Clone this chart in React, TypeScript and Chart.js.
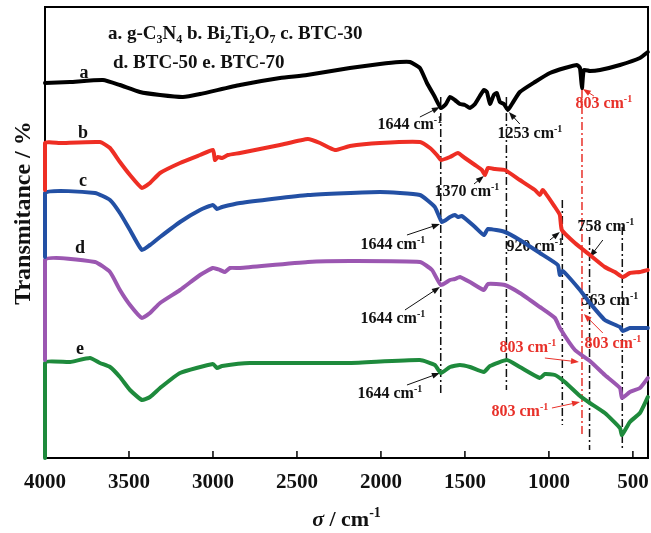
import React, { useEffect, useRef } from "react";
import { Chart, registerables } from "chart.js";
Chart.register(...registerables);

// ---- data (wavenumber cm-1, relative transmittance, stacked offsets) ----
const WN_A = [4000,3851,3655,3554,3435,3315,3179,3077,2839,2601,2440,2185,2006,1887,1827,1768,1726,1679,1643,1613,1589,1560,1530,1500,1470,1440,1411,1387,1369,1351,1328,1310,1292,1268,1244,1220,1173,1083,994,905,833,815,803,792,756,696,577,458,411];
const T_A = [375,376,378,373,366,363,361,364,373,380,383,390,394,396,396,390,375,361,350,354,361,358,354,353,350,354,362,368,366,354,363,365,356,354,348,354,366,376,385,390,393,390,370,388,387,388,393,400,406];

const WN_B = [4000,4000,3911,3673,3613,3554,3494,3423,3375,3315,3196,3077,3000,2988,2970,2946,2911,2839,2601,2435,2363,2274,2185,2006,1768,1708,1667,1643,1589,1542,1500,1440,1399,1381,1363,1321,1262,1173,1083,1054,1036,964,935,923,845,756,667,607,560,518,458,411];
const T_B = [268,315,315,316,310,296,283,270,275,285,295,303,308,298,301,300,303,305,313,319,315,308,312,315,316,310,303,298,301,305,300,293,288,283,290,289,288,278,268,263,268,251,243,228,215,203,191,186,181,185,186,188];

const WN_C = [4000,4000,3702,3613,3554,3494,3423,3375,3315,3196,3077,3000,2976,2946,2839,2435,2006,1768,1679,1637,1589,1560,1542,1518,1440,1387,1363,1262,1173,1054,947,935,917,815,756,667,577,560,518,458,411];
const T_C = [201,265,265,258,245,228,208,213,221,236,248,253,249,251,255,263,266,263,251,236,241,243,241,242,231,223,229,226,218,205,193,183,187,168,155,138,131,127,130,130,130];

const WN_D = [4000,4000,3702,3613,3554,3494,3423,3375,3315,3196,3077,3000,2958,2929,2899,2839,2435,2185,1768,1696,1643,1589,1560,1530,1470,1387,1363,1262,1173,1054,964,935,845,756,667,577,565,518,458,411];
const T_D = [98,198,196,186,168,153,140,145,155,168,183,190,188,186,190,190,196,197,196,188,173,178,179,181,176,168,174,173,165,151,140,130,108,97,83,70,60,66,70,80];

const WN_E = [4000,4000,3851,3732,3673,3613,3554,3494,3423,3375,3315,3196,3000,2976,2946,2780,2185,1768,1679,1643,1589,1530,1470,1387,1351,1250,1173,1054,1024,964,905,815,756,667,577,565,518,458,411];
const T_E = [0,95,96,100,95,91,81,68,58,61,70,85,94,90,92,95,95,98,93,85,91,93,91,86,92,98,91,80,84,83,76,62,55,45,30,23,36,45,61];

const XTICKS = [4000,3500,3000,2500,2000,1500,1000,500];

// curve letters
const LETTERS = ["a","b","c","d","e"];
const LETTER_WN = [3768,3774,3774,3792,3792];
const LETTER_T = [386,326,278,211,110];

// guide lines
const DASH_WN = [1644,1253,920,758,563,803];
const DASH_TOP = [361,361,258,221,231,368];
const DASH_BOTTOM = [65,68,33,8,8,21];
const DASH_RED = [0,0,0,0,0,1];

// peak annotations
const ANN_TEXT = ["1644","1253","803","1370","1644","920","758","1644","563","803","803","803","1644"];
const ANN_RED = [0,0,1,0,0,0,0,0,0,1,1,1,0];
const ANN_WN = [1828,1113,673,1488,1929,1084,661,1929,637,619,1125,1173,1947];
const ANN_T = [334,325,355,267,214,212,232,140,158,115,111,47,65];
const AR_FROM_WN = [1768,1173,732,1446,1845,994,679,1857,null,679,1024,982,1845];
const AR_FROM_T = [341,334,362,274,223,218,218,148,null,125,100,50,73];
const AR_TO_WN = [1649,1238,798,1387,1649,935,756,1649,null,792,821,815,1649];
const AR_TO_T = [351,346,369,282,234,226,201,171,null,144,96,56,85];

const COLORS = ["#000000","#ee2e24","#2350a4","#9b57b1","#1e8a3c"];
const RED = "#e8312a";
const FONT = '"Liberation Serif", "Times New Roman", Times, serif';

type Seg = { t: string; s?: "sub" | "sup"; it?: boolean };

function drawRich(ctx: CanvasRenderingContext2D, segs: Seg[], x: number, yc: number, size: number, align: "left" | "center", color: string) {
  const f = (sg: Seg) => `${sg.it ? "italic " : ""}bold ${sg.s ? Math.round(size * 0.62) : size}px ${FONT}`;
  const widths = segs.map((sg) => { ctx.font = f(sg); return ctx.measureText(sg.t).width; });
  const total = widths.reduce((a, b) => a + b, 0);
  let cx = align === "center" ? x - total / 2 : x;
  const base = yc + size * 0.33;
  ctx.fillStyle = color;
  ctx.textAlign = "left";
  ctx.textBaseline = "alphabetic";
  segs.forEach((sg, i) => {
    ctx.font = f(sg);
    const dy = sg.s === "sup" ? -size * 0.4 : sg.s === "sub" ? size * 0.22 : 0;
    ctx.fillText(sg.t, cx, base + dy);
    cx += widths[i];
  });
}

function arrow(ctx: CanvasRenderingContext2D, x1: number, y1: number, x2: number, y2: number, color: string) {
  ctx.strokeStyle = color;
  ctx.fillStyle = color;
  ctx.lineWidth = 1;
  ctx.setLineDash([]);
  const a = Math.atan2(y2 - y1, x2 - x1);
  const L = 8, W = 3;
  ctx.beginPath();
  ctx.moveTo(x1, y1);
  ctx.lineTo(x2 - Math.cos(a) * L * 0.8, y2 - Math.sin(a) * L * 0.8);
  ctx.stroke();
  ctx.beginPath();
  ctx.moveTo(x2, y2);
  ctx.lineTo(x2 - Math.cos(a) * L - Math.sin(a) * W, y2 - Math.sin(a) * L + Math.cos(a) * W);
  ctx.lineTo(x2 - Math.cos(a) * L + Math.sin(a) * W, y2 - Math.sin(a) * L - Math.cos(a) * W);
  ctx.closePath();
  ctx.fill();
}

const decor = {
  id: "decor",
  beforeDatasetsDraw(chart: any) {
    const { ctx, chartArea: ca, scales } = chart;
    const x = scales.x, y = scales.y;
    ctx.save();
    // frame
    ctx.strokeStyle = "#000";
    ctx.lineWidth = 2;
    ctx.strokeRect(ca.left, ca.top, ca.right - ca.left, ca.bottom - ca.top);
    // inward ticks
    ctx.lineWidth = 1.5;
    XTICKS.forEach((v) => {
      const px = x.getPixelForValue(v);
      ctx.beginPath();
      ctx.moveTo(px, ca.bottom);
      ctx.lineTo(px, ca.bottom - 7);
      ctx.stroke();
    });
    // dash-dot guide lines
    DASH_WN.forEach((w, i) => {
      const px = x.getPixelForValue(w);
      ctx.strokeStyle = DASH_RED[i] ? RED : "#111";
      ctx.lineWidth = 1.5;
      ctx.setLineDash([8, 3, 2, 3]);
      ctx.beginPath();
      ctx.moveTo(px, y.getPixelForValue(DASH_TOP[i]));
      ctx.lineTo(px, y.getPixelForValue(DASH_BOTTOM[i]));
      ctx.stroke();
    });
    ctx.setLineDash([]);
    // annotations
    ANN_TEXT.forEach((t, i) => {
      const col = ANN_RED[i] ? RED : "#111";
      drawRich(ctx, [{ t: t + " cm" }, { t: "-1", s: "sup" }], x.getPixelForValue(ANN_WN[i]), y.getPixelForValue(ANN_T[i]), 16, "center", col);
      if (AR_FROM_WN[i] != null) {
        arrow(ctx, x.getPixelForValue(AR_FROM_WN[i]), y.getPixelForValue(AR_FROM_T[i] as number),
          x.getPixelForValue(AR_TO_WN[i]), y.getPixelForValue(AR_TO_T[i] as number), col);
      }
    });
    // curve letters
    LETTERS.forEach((l, i) => {
      drawRich(ctx, [{ t: l }], x.getPixelForValue(LETTER_WN[i]), y.getPixelForValue(LETTER_T[i]), 18, "center", "#111");
    });
    // legend text
    drawRich(ctx, [
      { t: "a. g-C" }, { t: "3", s: "sub" }, { t: "N" }, { t: "4", s: "sub" },
      { t: " b. Bi" }, { t: "2", s: "sub" }, { t: "Ti" }, { t: "2", s: "sub" }, { t: "O" }, { t: "7", s: "sub" },
      { t: " c. BTC-30" },
    ], x.getPixelForValue(3625), y.getPixelForValue(425), 19, "left", "#111");
    drawRich(ctx, [{ t: "d. BTC-50 e. BTC-70" }], x.getPixelForValue(3595), y.getPixelForValue(396), 19, "left", "#111");
    ctx.restore();
  },
  afterDraw(chart: any) {
    const { ctx, chartArea: ca, scales } = chart;
    const x = scales.x;
    ctx.save();
    XTICKS.forEach((v) => {
      drawRich(ctx, [{ t: String(v) }], x.getPixelForValue(v), ca.bottom + 23, 21, "center", "#111");
    });
    drawRich(ctx, [{ t: "σ", it: true }, { t: " / cm" }, { t: "-1", s: "sup" }], (ca.left + ca.right) / 2, ca.bottom + 61, 22, "center", "#111");
    ctx.translate(22, 213);
    ctx.rotate(-Math.PI / 2);
    drawRich(ctx, [{ t: "Transmitance / %" }], 0, 0, 24, "center", "#111");
    ctx.restore();
  },
};

function series(wn: number[], t: number[]) {
  return wn.map((w, i) => ({ x: w, y: t[i] }));
}

export default function App() {
  const ref = useRef<HTMLCanvasElement>(null);
  useEffect(() => {
    const sets = [
      series(WN_A, T_A), series(WN_B, T_B), series(WN_C, T_C), series(WN_D, T_D), series(WN_E, T_E),
    ];
    const chart = new Chart(ref.current as HTMLCanvasElement, {
      type: "line",
      data: {
        datasets: sets.map((d, i) => ({
          data: d,
          borderColor: COLORS[i],
          borderWidth: 4,
          pointRadius: 0,
          fill: false,
          tension: 0.15,
          borderJoinStyle: "round",
          borderCapStyle: "round",
          clip: 5,
        })) as any,
      },
      options: {
        animation: false,
        responsive: true,
        maintainAspectRatio: false,
        layout: { padding: { left: 45, right: 3, top: 7, bottom: 75 } },
        plugins: { legend: { display: false }, tooltip: { enabled: false } },
        scales: {
          x: { type: "linear", min: 410, max: 4000, reverse: true, display: false },
          y: { type: "linear", min: 0, max: 451, display: false },
        },
      },
      plugins: [decor],
    });
    return () => chart.destroy();
  }, []);
  return (
    <div style={{ position: "absolute", left: 0, top: 0, width: 651, height: 533, background: "#fff" }}>
      <canvas ref={ref} />
    </div>
  );
}
